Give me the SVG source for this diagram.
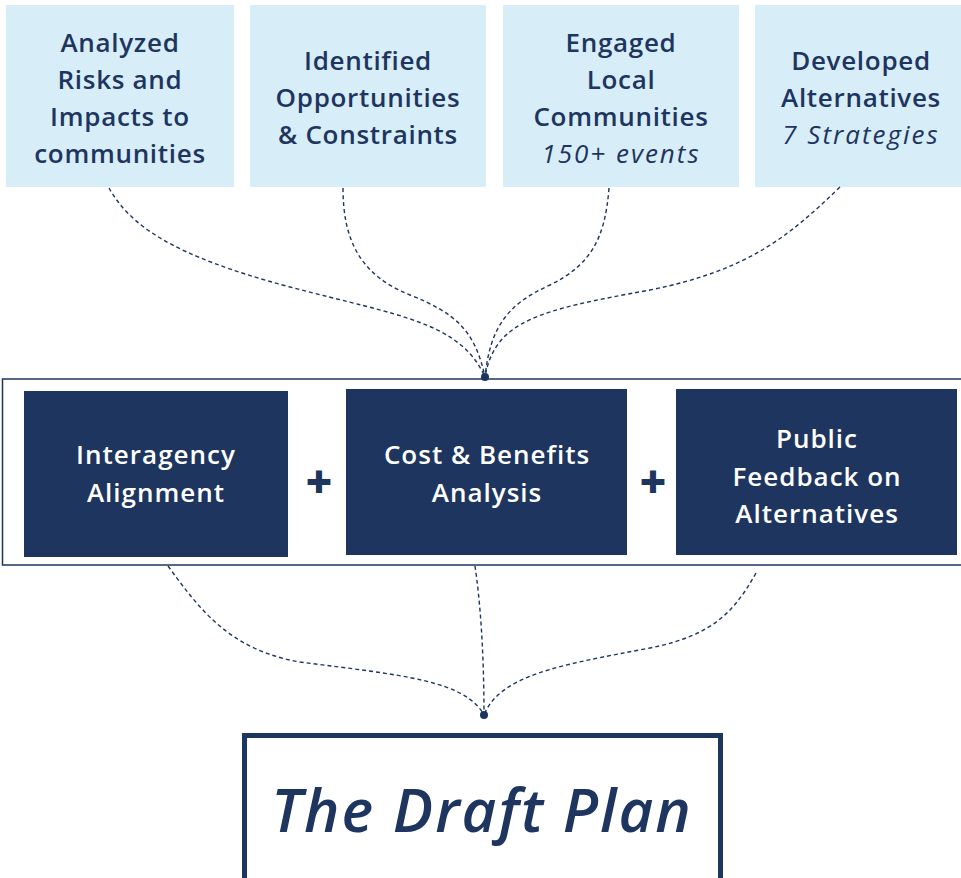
<svg xmlns="http://www.w3.org/2000/svg" width="961" height="878" viewBox="0 0 961 878">
<defs>
<style>
.top{fill:#d7eef8;}
.dark{fill:#1e3560;}
.t{font-family:"Open Sans","Liberation Sans",sans-serif;font-weight:600;font-size:26px;letter-spacing:0.7px;fill:#1e3560;text-anchor:middle;}
.ti{font-family:"Open Sans","Liberation Sans",sans-serif;font-style:italic;font-weight:400;font-size:26px;letter-spacing:2px;fill:#1e3560;text-anchor:middle;}
.w{font-family:"Open Sans","Liberation Sans",sans-serif;font-weight:600;font-size:26px;letter-spacing:1px;fill:#ffffff;text-anchor:middle;}
.plus{font-family:"Open Sans","Liberation Sans",sans-serif;font-weight:800;font-style:italic;font-size:46px;fill:#1e3560;text-anchor:middle;}
.big{font-family:"Open Sans","Liberation Sans",sans-serif;font-weight:600;font-style:italic;font-size:60px;letter-spacing:2px;fill:#1e3560;text-anchor:middle;}
.con{fill:none;stroke:#1e3560;stroke-width:1.4;stroke-dasharray:4 3;}
</style>
</defs>
<rect width="961" height="878" fill="#ffffff"/>
<g id="band">
<rect x="2.5" y="379" width="970" height="186" fill="none" stroke="#1e3560" stroke-width="1.5"/>
</g>
<g id="n1">
<rect class="top" x="6" y="5" width="228" height="182"/>
<text class="t" x="120" y="52">Analyzed</text>
<text class="t" x="120" y="89">Risks and</text>
<text class="t" x="120" y="126">Impacts to</text>
<text class="t" x="120" y="163">communities</text>
</g>
<g id="n2">
<rect class="top" x="250" y="5" width="236" height="182"/>
<text class="t" x="368" y="70">Identified</text>
<text class="t" x="368" y="107">Opportunities</text>
<text class="t" x="368" y="144">&amp; Constraints</text>
</g>
<g id="n3">
<rect class="top" x="503" y="5" width="236" height="182"/>
<text class="t" x="621" y="52">Engaged</text>
<text class="t" x="621" y="89">Local</text>
<text class="t" x="621" y="126">Communities</text>
<text class="ti" x="621" y="163">150+ events</text>
</g>
<g id="n4">
<rect class="top" x="755" y="5" width="215" height="182"/>
<text class="t" x="861" y="70">Developed</text>
<text class="t" x="861" y="107">Alternatives</text>
<text class="ti" x="861" y="144">7 Strategies</text>
</g>
<g id="nA">
<rect class="dark" x="24" y="391" width="264" height="166"/>
<text class="w" x="156" y="464">Interagency</text>
<text class="w" x="156" y="502">Alignment</text>
</g>
<g id="nB">
<rect class="dark" x="346" y="389" width="281" height="166"/>
<text class="w" x="487" y="464">Cost &amp; Benefits</text>
<text class="w" x="487" y="502">Analysis</text>
</g>
<g id="nC">
<rect class="dark" x="676" y="389" width="281" height="166"/>
<text class="w" x="817" y="448">Public</text>
<text class="w" x="817" y="486">Feedback on</text>
<text class="w" x="817" y="523">Alternatives</text>
</g>
<g id="plus1"><text class="plus" x="319" y="498">+</text></g>
<g id="plus2"><text class="plus" x="653" y="498">+</text></g>
<g id="draft">
<rect x="244.5" y="735.5" width="476" height="160" fill="#ffffff" stroke="#1e3560" stroke-width="5"/>
<text class="big" x="482" y="832">The Draft Plan</text>
</g>
<g id="connectors">
<path class="con" d="M109,188 C130,225 170,255 290,287 C400,316 460,322 485,377"/>
<path class="con" d="M343,188 C343,240 360,275 410,295 C455,313 475,330 485,377"/>
<path class="con" d="M609,188 C605,240 590,265 550,285 C505,305 490,330 485,377"/>
<path class="con" d="M840,187 C790,235 750,270 650,290 C540,310 495,320 485,377"/>
<path class="con" d="M168,566 C200,610 230,650 300,662 C400,675 465,680 484,715"/>
<path class="con" d="M475,566 C480,600 484,650 484,715"/>
<path class="con" d="M756,573 C735,610 715,635 650,648 C560,665 500,675 484,715"/>
<circle class="dark" cx="485" cy="377" r="4"/>
<circle class="dark" cx="484" cy="715" r="4"/>
</g>
</svg>
